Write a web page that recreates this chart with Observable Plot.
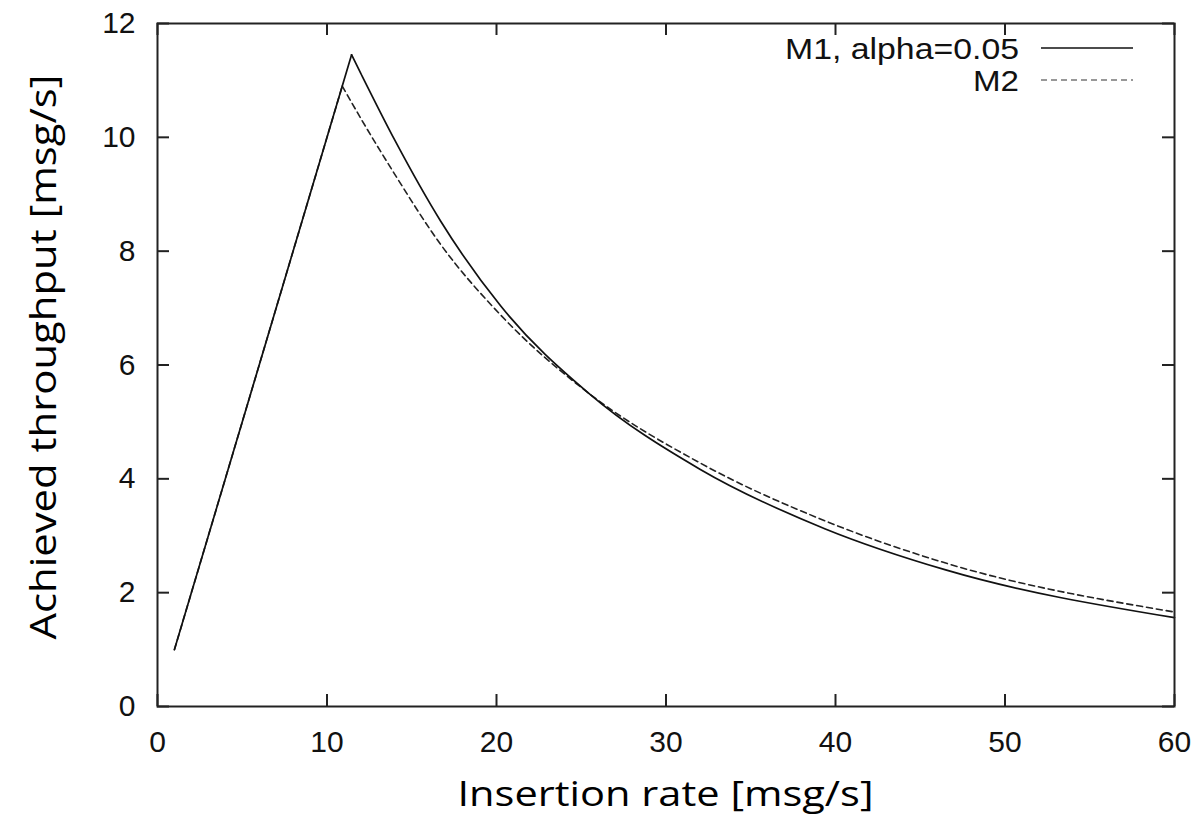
<!DOCTYPE html>
<html>
<head>
<meta charset="utf-8">
<script src="https://cdn.jsdelivr.net/npm/d3@7"></script>
<script src="https://cdn.jsdelivr.net/npm/@observablehq/plot@0.6"></script>
<style>
  html, body { margin: 0; padding: 0; background: #fff; }
  #chart svg { display: block; }
</style>
</head>
<body>
<div id="chart"></div>
<script>
// Insertion rate (x) and achieved throughput (y)
const m1Rate = [1, 11.45, 12, 14, 16.7, 20.24, 25.5, 32, 39.4, 46.5, 60];
const m1Thr  = [1, 11.45, 11.12, 9.95, 8.53, 7.04, 5.49, 4.17, 3.12, 2.40, 1.56];
const m2Rate = [1, 10.9, 12, 14, 16.7, 20.24, 25.5, 32, 39.4, 46.5, 60];
const m2Thr  = [1, 10.9, 10.33, 9.35, 8.12, 6.88, 5.49, 4.28, 3.26, 2.52, 1.66];

const seriesNames = ["M1, alpha=0.05", "M2"];
const xTicks = [0, 10, 20, 30, 40, 50, 60];
const yTicks = [0, 2, 4, 6, 8, 10, 12];
const xTitle = "Insertion rate [msg/s]";
const yTitle = "Achieved throughput [msg/s]";

const toPts = (xs, ys) => xs.map((x, i) => ({x, y: ys[i]}));
const m1 = toPts(m1Rate, m1Thr);
const m2 = toPts(m2Rate, m2Thr);
// rising (linear) part and decaying (smooth) part
const m1Rise = m1.slice(0, 2), m1Fall = m1.slice(1);
const m2Rise = m2.slice(0, 2), m2Fall = m2.slice(1);

const W = 1201, H = 822;
const mL = 157, mT = 23, mR = 27, mB = 116;
const frameW = W - mL - mR, frameH = H - mT - mB;
const tickLen = 12;
const tickFont = "Liberation Sans, Arial, sans-serif";
const axisInk = "#222";

const chart = Plot.plot({
  width: W,
  height: H,
  marginLeft: mL,
  marginTop: mT,
  marginRight: mR,
  marginBottom: mB,
  style: {fontFamily: tickFont, fontSize: "30px", color: "#111", background: "#fff"},
  x: {domain: [0, 60]},
  y: {domain: [0, 12]},
  marks: [
    // M2 dashed
    Plot.line(m2Rise, {x: "x", y: "y", stroke: "#222", strokeWidth: 1.6, strokeDasharray: "6,4"}),
    Plot.line(m2Fall, {x: "x", y: "y", curve: "monotone-x", stroke: "#222", strokeWidth: 1.6, strokeDasharray: "6,4"}),
    // M1 solid
    Plot.line(m1Rise, {x: "x", y: "y", stroke: "#111", strokeWidth: 1.7}),
    Plot.line(m1Fall, {x: "x", y: "y", curve: "monotone-x", stroke: "#111", strokeWidth: 1.7}),
    // tick labels
    Plot.axisX({anchor: "bottom", ticks: xTicks, tickSize: 0, tickPadding: 24, label: null, fontSize: 30, tickFormat: d => String(d)}),
    Plot.axisY({anchor: "left", ticks: yTicks, tickSize: 0, tickPadding: 22, label: null, fontSize: 30, tickFormat: d => String(d)}),
    // inward tick marks on all four sides
    Plot.tickX(xTicks, {x: d => d, insetTop: frameH - tickLen, stroke: axisInk, strokeWidth: 2}),
    Plot.tickX(xTicks, {x: d => d, insetBottom: frameH - tickLen, stroke: axisInk, strokeWidth: 2}),
    Plot.tickY(yTicks, {y: d => d, insetRight: frameW - tickLen, stroke: axisInk, strokeWidth: 2}),
    Plot.tickY(yTicks, {y: d => d, insetLeft: frameW - tickLen, stroke: axisInk, strokeWidth: 2}),
    Plot.frame({stroke: axisInk, strokeWidth: 2})
  ]
});

document.getElementById("chart").appendChild(chart);

const svg = d3.select(chart);
const plotLeft = mL, plotRight = W - mR;

// legend
const leg = svg.append("g").attr("font-family", tickFont).attr("font-size", 30).attr("fill", "#111");
const legRows = [
  {name: seriesNames[0], y: 48, dash: null, stroke: "#111", len: 234},
  {name: seriesNames[1], y: 80, dash: "6,4", stroke: "#777", len: 46}
];
legRows.forEach(r => {
  leg.append("text").attr("x", plotRight - 155).attr("y", r.y).attr("dy", "0.36em")
     .attr("text-anchor", "end").attr("textLength", r.len).attr("lengthAdjust", "spacingAndGlyphs")
     .text(r.name);
  leg.append("line").attr("x1", plotRight - 133).attr("x2", plotRight - 41)
     .attr("y1", r.y).attr("y2", r.y).attr("stroke", r.stroke).attr("stroke-width", 1.6)
     .attr("stroke-dasharray", r.dash);
});

// axis titles
const titleFont = "'Open Sans', Lato, sans-serif";
svg.append("text").attr("x", (plotLeft + plotRight) / 2).attr("y", 806)
   .attr("text-anchor", "middle").attr("font-family", titleFont).attr("font-size", 35)
   .attr("textLength", 416).attr("lengthAdjust", "spacingAndGlyphs")
   .attr("fill", "#000").text(xTitle);
svg.append("text").attr("transform", `translate(56,357) rotate(-90)`)
   .attr("text-anchor", "middle").attr("font-family", titleFont).attr("font-size", 37)
   .attr("textLength", 565).attr("lengthAdjust", "spacingAndGlyphs")
   .attr("fill", "#000").text(yTitle);
</script>
</body>
</html>
